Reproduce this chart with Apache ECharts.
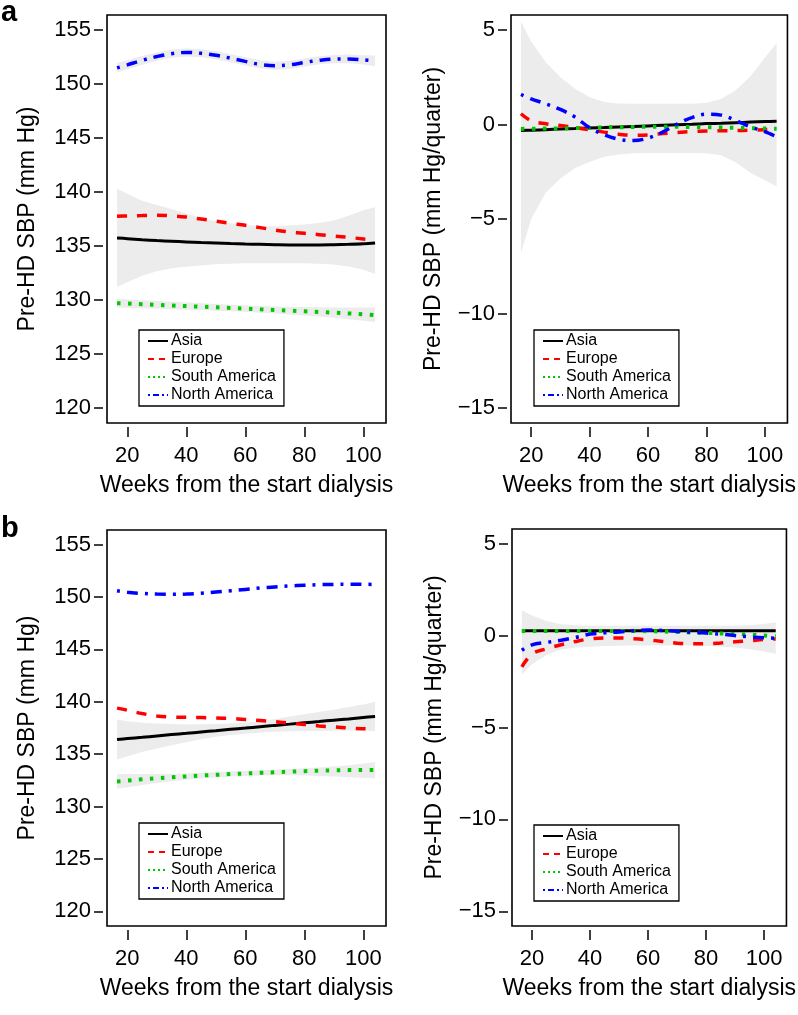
<!DOCTYPE html>
<html>
<head>
<meta charset="utf-8">
<script src="https://cdn.jsdelivr.net/npm/echarts@6/dist/echarts.min.js"></script>
<style>
html, body {margin: 0; padding: 0; background: #fff;}
#chart {width: 798px; height: 1015px;}
</style>
</head>
<body>
<div id="chart"></div>
<script>
var weeks = [16.5, 20, 25, 30, 35, 40, 45, 50, 55, 60, 65, 70, 75, 80, 85, 90, 95, 100, 104];
var xTicks = [20, 40, 60, 80, 100];
var levelTicks = [120, 125, 130, 135, 140, 145, 150, 155];
var slopeTicks = [-15, -10, -5, 0, 5];
var regions = ['Asia', 'Europe', 'South America', 'North America'];

// panel a, level (mm Hg)
var asiaLevelA = [135.75, 135.68, 135.58, 135.5, 135.44, 135.38, 135.32, 135.27, 135.22, 135.18, 135.15, 135.12, 135.1, 135.1, 135.1, 135.12, 135.15, 135.2, 135.28];
var europeLevelA = [137.75, 137.78, 137.82, 137.85, 137.8, 137.68, 137.5, 137.3, 137.1, 136.92, 136.7, 136.48, 136.3, 136.17, 136.05, 135.92, 135.8, 135.65, 135.52];
var southLevelA = [129.7, 129.67, 129.61, 129.55, 129.49, 129.43, 129.38, 129.32, 129.26, 129.2, 129.13, 129.07, 129.01, 128.95, 128.88, 128.82, 128.75, 128.67, 128.6];
var northLevelA = [151.5, 151.78, 152.2, 152.55, 152.82, 152.93, 152.85, 152.67, 152.4, 152.1, 151.82, 151.7, 151.78, 152.0, 152.2, 152.32, 152.33, 152.25, 152.15];
var asiaLowA = [131.2, 131.65, 132.25, 132.65, 132.93, 133.08, 133.2, 133.3, 133.35, 133.4, 133.4, 133.4, 133.4, 133.4, 133.35, 133.28, 133.1, 132.8, 132.4];
var asiaHighA = [140.3, 139.85, 139.2, 138.8, 138.42, 138.0, 137.6, 137.3, 137.1, 136.95, 136.88, 136.83, 136.9, 137.0, 137.12, 137.35, 137.8, 138.3, 138.6];
var southLowA = [129.3, 129.28, 129.24, 129.2, 129.15, 129.1, 129.06, 129.01, 128.96, 128.9, 128.82, 128.74, 128.65, 128.56, 128.46, 128.35, 128.22, 128.08, 127.95];
var southHighA = [130.1, 130.05, 129.98, 129.9, 129.83, 129.76, 129.69, 129.62, 129.55, 129.5, 129.45, 129.4, 129.37, 129.34, 129.32, 129.3, 129.3, 129.3, 129.32];
var northLowA = [151.1, 151.38, 151.8, 152.17, 152.44, 152.55, 152.48, 152.3, 152.02, 151.72, 151.44, 151.32, 151.4, 151.63, 151.83, 151.94, 151.93, 151.82, 151.65];
var northHighA = [151.95, 152.2, 152.6, 152.93, 153.2, 153.3, 153.22, 153.05, 152.78, 152.48, 152.2, 152.08, 152.15, 152.37, 152.57, 152.7, 152.73, 152.68, 152.65];

// panel a, slope (mm Hg/quarter)
var asiaSlopeA = [-0.32, -0.3, -0.27, -0.24, -0.21, -0.18, -0.16, -0.13, -0.1, -0.07, -0.04, -0.01, 0.02, 0.05, 0.07, 0.1, 0.13, 0.16, 0.18];
var europeSlopeA = [0.57, 0.2, 0.04, -0.05, -0.16, -0.28, -0.4, -0.51, -0.57, -0.55, -0.48, -0.42, -0.37, -0.34, -0.33, -0.32, -0.3, -0.27, -0.25];
var southSlopeA = [-0.23, -0.22, -0.21, -0.2, -0.18, -0.17, -0.15, -0.14, -0.13, -0.12, -0.12, -0.12, -0.13, -0.14, -0.16, -0.17, -0.19, -0.21, -0.22];
var northSlopeA = [1.59, 1.36, 1.1, 0.8, 0.4, -0.17, -0.54, -0.78, -0.85, -0.72, -0.4, 0.03, 0.37, 0.55, 0.5, 0.22, -0.12, -0.38, -0.65];
var slopeLowA = [-6.8, -5.0, -3.6, -2.85, -2.3, -1.98, -1.7, -1.58, -1.52, -1.5, -1.5, -1.5, -1.5, -1.52, -1.62, -2.0, -2.55, -2.95, -3.28];
var slopeHighA = [5.45, 4.4, 3.3, 2.5, 1.9, 1.45, 1.2, 1.12, 1.1, 1.1, 1.1, 1.1, 1.1, 1.15, 1.35, 1.82, 2.55, 3.55, 4.3];

// panel b, level (mm Hg)
var asiaLevelB = [136.4, 136.49, 136.61, 136.74, 136.87, 136.99, 137.12, 137.24, 137.37, 137.49, 137.62, 137.75, 137.87, 138.0, 138.12, 138.25, 138.37, 138.5, 138.6];
var europeLevelB = [139.4, 139.2, 138.88, 138.65, 138.55, 138.52, 138.5, 138.46, 138.4, 138.32, 138.22, 138.1, 137.97, 137.84, 137.7, 137.6, 137.5, 137.43, 137.4];
var southLevelB = [132.4, 132.48, 132.6, 132.7, 132.8, 132.88, 132.96, 133.03, 133.1, 133.16, 133.22, 133.28, 133.33, 133.38, 133.42, 133.45, 133.48, 133.5, 133.5];
var northLevelB = [150.6, 150.45, 150.35, 150.28, 150.26, 150.28, 150.36, 150.48, 150.6, 150.73, 150.86, 150.97, 151.06, 151.13, 151.18, 151.21, 151.22, 151.22, 151.2];
var asiaLowB = [134.5, 134.8, 135.2, 135.54, 135.85, 136.14, 136.42, 136.66, 136.82, 136.95, 137.06, 137.15, 137.2, 137.22, 137.22, 137.24, 137.25, 137.25, 137.2];
var asiaHighB = [138.3, 138.15, 138.0, 137.94, 137.88, 137.84, 137.85, 137.88, 137.92, 138.0, 138.15, 138.35, 138.6, 138.82, 139.02, 139.25, 139.5, 139.75, 140.0];
var southLowB = [131.7, 131.85, 132.05, 132.25, 132.42, 132.56, 132.68, 132.78, 132.86, 132.92, 132.96, 132.98, 132.98, 132.96, 132.92, 132.86, 132.8, 132.75, 132.7];
var southHighB = [133.1, 133.1, 133.1, 133.1, 133.12, 133.16, 133.22, 133.28, 133.34, 133.4, 133.46, 133.52, 133.59, 133.66, 133.74, 133.82, 133.95, 134.1, 134.25];

// panel b, slope (mm Hg/quarter)
var asiaSlopeB = [0.27, 0.27, 0.27, 0.27, 0.27, 0.27, 0.27, 0.27, 0.27, 0.27, 0.27, 0.27, 0.27, 0.27, 0.27, 0.27, 0.27, 0.27, 0.27];
var europeSlopeB = [-1.7, -1.0, -0.72, -0.5, -0.32, -0.18, -0.13, -0.13, -0.17, -0.23, -0.32, -0.41, -0.45, -0.45, -0.4, -0.34, -0.28, -0.21, -0.18];
var southSlopeB = [0.25, 0.25, 0.25, 0.25, 0.25, 0.25, 0.25, 0.25, 0.25, 0.24, 0.22, 0.2, 0.17, 0.15, 0.12, 0.09, 0.05, 0.0, -0.04];
var northSlopeB = [-0.8, -0.5, -0.37, -0.25, -0.1, 0.08, 0.15, 0.2, 0.27, 0.3, 0.28, 0.23, 0.18, 0.14, 0.08, 0.0, -0.07, -0.12, -0.14];
var slopeLowB = [-2.1, -1.55, -1.05, -0.75, -0.65, -0.6, -0.57, -0.55, -0.54, -0.54, -0.54, -0.54, -0.54, -0.56, -0.6, -0.65, -0.74, -0.87, -1.0];
var slopeHighB = [1.38, 1.1, 0.8, 0.62, 0.56, 0.54, 0.54, 0.54, 0.54, 0.54, 0.54, 0.54, 0.54, 0.54, 0.54, 0.54, 0.57, 0.63, 0.72];

var FONT = '"Liberation Sans", Arial, Helvetica, sans-serif';
var BAND = '#ececec';

var lineStyles = {
    'Asia': {color: '#000000', width: 3, type: 'solid'},
    'Europe': {color: '#ff0000', width: 3.5, type: [10, 10]},
    'South America': {color: '#00c800', width: 4, type: [3.5, 7.5]},
    'North America': {color: '#0000ff', width: 3.5, type: [3, 7, 11, 7]}
};
// shorter patterns for the little legend samples
var legendDash = {
    'Asia': 'solid',
    'Europe': [6, 5],
    'South America': [2, 3],
    'North America': [2, 3, 6, 3]
};

var pairs = function (values) {
    return weeks.map(function (w, i) {
        return [w, values[i]];
    });
};

var makeLine = function (name, values, g) {
    return {
        name: name,
        type: 'line',
        xAxisIndex: g,
        yAxisIndex: g,
        data: pairs(values),
        smooth: 0.35,
        symbol: 'none',
        silent: true,
        color: lineStyles[name].color,
        lineStyle: lineStyles[name],
        z: 3
    };
};

// gray confidence band drawn as one polygon through the axis scales
var makeBand = function (low, high, g) {
    return {
        type: 'custom',
        xAxisIndex: g,
        yAxisIndex: g,
        silent: true,
        clip: true,
        z: 1,
        encode: {x: 0, y: [1, 2]},
        data: weeks.map(function (w, i) {
            return [w, low[i], high[i]];
        }),
        renderItem: function (params, api) {
            if (params.dataIndex !== 0) {
                return null;
            }
            var top = weeks.map(function (w, i) {
                return api.coord([w, high[i]]);
            });
            var bottom = weeks.map(function (w, i) {
                return api.coord([w, low[i]]);
            }).reverse();
            return {
                type: 'polygon',
                shape: {points: top.concat(bottom)},
                style: {fill: BAND, stroke: null}
            };
        }
    };
};

var grids = [
    {left: 107, top: 15, width: 279, height: 408},
    {left: 511, top: 15, width: 279, height: 408},
    {left: 107, top: 530, width: 279, height: 396},
    {left: 512, top: 529, width: 279, height: 397}
];

var makeXAxis = function (g) {
    return {
        gridIndex: g,
        type: 'value',
        min: 13.1,
        max: 107.7,
        offset: 4,
        axisLine: {show: false, onZero: false},
        splitLine: {show: false},
        axisTick: {show: true, length: 10, customValues: xTicks, lineStyle: {color: '#111', width: 1.6}},
        axisLabel: {customValues: xTicks, fontSize: 22, color: '#000', fontFamily: FONT, margin: 18},
        name: 'Weeks from the start dialysis',
        nameLocation: 'middle',
        nameGap: 47,
        nameTextStyle: {fontSize: 23, color: '#000', fontFamily: FONT}
    };
};

var makeYAxis = function (g, slope) {
    var ticks = slope ? slopeTicks : levelTicks;
    return {
        gridIndex: g,
        type: 'value',
        min: slope ? -15.8 : 118.6,
        max: slope ? 5.8 : 156.4,
        offset: 4,
        axisLine: {show: false, onZero: false},
        splitLine: {show: false},
        axisTick: {show: true, length: 9, customValues: ticks, lineStyle: {color: '#111', width: 1.6}},
        axisLabel: {
            customValues: ticks, fontSize: 22, color: '#000', fontFamily: FONT, margin: 12,
            formatter: function (v) { return String(v).replace('-', '\u2212'); }
        },
        name: slope ? 'Pre-HD SBP (mm Hg/quarter)' : 'Pre-HD SBP (mm Hg)',
        nameLocation: 'middle',
        nameGap: slope ? 62 : 64,
        nameTextStyle: {fontSize: 23, color: '#000', fontFamily: FONT}
    };
};

var makeLegend = function (left, top) {
    return {
        orient: 'vertical',
        left: left,
        top: top,
        data: regions.map(function (r) {
            return {name: r, lineStyle: {type: legendDash[r], width: 2}};
        }),
        selectedMode: false,
        backgroundColor: '#fff',
        borderColor: '#000',
        borderWidth: 1.3,
        borderRadius: 0,
        padding: [3, 8, 3, 8],
        itemGap: 2,
        itemWidth: 20,
        itemHeight: 14,
        itemStyle: {opacity: 0},
        textStyle: {fontSize: 16, color: '#000', fontFamily: FONT, padding: [0, 0, 0, -2]}
    };
};

var series = [
    makeBand(northLowA, northHighA, 0),
    makeBand(asiaLowA, asiaHighA, 0),
    makeBand(southLowA, southHighA, 0),
    makeBand(slopeLowA, slopeHighA, 1),
    makeBand(asiaLowB, asiaHighB, 2),
    makeBand(southLowB, southHighB, 2),
    makeBand(slopeLowB, slopeHighB, 3),
    makeLine('Asia', asiaLevelA, 0),
    makeLine('Europe', europeLevelA, 0),
    makeLine('South America', southLevelA, 0),
    makeLine('North America', northLevelA, 0),
    makeLine('Asia', asiaSlopeA, 1),
    makeLine('Europe', europeSlopeA, 1),
    makeLine('South America', southSlopeA, 1),
    makeLine('North America', northSlopeA, 1),
    makeLine('Asia', asiaLevelB, 2),
    makeLine('Europe', europeLevelB, 2),
    makeLine('South America', southLevelB, 2),
    makeLine('North America', northLevelB, 2),
    makeLine('Asia', asiaSlopeB, 3),
    makeLine('Europe', europeSlopeB, 3),
    makeLine('South America', southSlopeB, 3),
    makeLine('North America', northSlopeB, 3)
];

var myChart = echarts.init(document.getElementById('chart'), null, {renderer: 'canvas'});
var option = {
    backgroundColor: '#fff',
    animation: false,
    grid: grids.map(function (g) {
        return Object.assign({show: true, borderColor: '#000', borderWidth: 1.6, backgroundColor: 'transparent'}, g);
    }),
    xAxis: [makeXAxis(0), makeXAxis(1), makeXAxis(2), makeXAxis(3)],
    yAxis: [makeYAxis(0, false), makeYAxis(1, true), makeYAxis(2, false), makeYAxis(3, true)],
    legend: [makeLegend(139, 330), makeLegend(534, 330), makeLegend(139, 823), makeLegend(534, 825)],
    graphic: [
        {type: 'text', left: 1, top: -2, style: {text: 'a', font: 'bold 29px ' + FONT, fill: '#000'}},
        {type: 'text', left: 1, top: 514, style: {text: 'b', font: 'bold 29px ' + FONT, fill: '#000'}}
    ],
    series: series
};
myChart.setOption(option);
</script>
</body>
</html>
